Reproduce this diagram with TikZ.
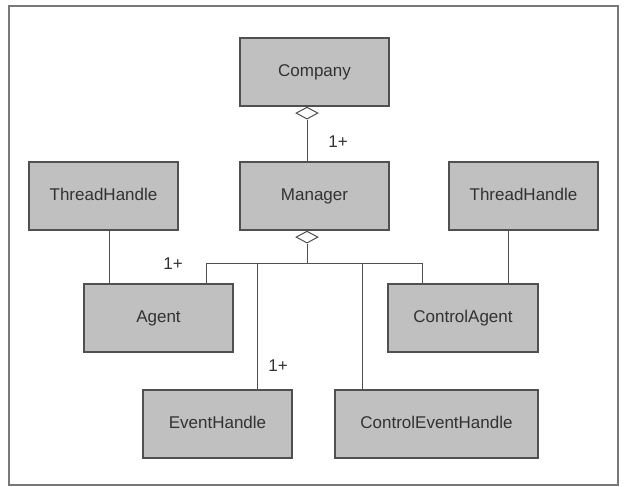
\documentclass[tikz,border=0pt]{standalone}
\usepackage{fontspec}
\setmainfont{Liberation Sans}
\usetikzlibrary{shapes.geometric}
\definecolor{boxfill}{RGB}{192,192,192}
\definecolor{boxline}{RGB}{80,80,80}
\definecolor{ink}{RGB}{50,50,50}
\definecolor{framec}{RGB}{120,120,120}
\begin{document}
\begin{tikzpicture}[x=1pt,y=-1pt,
  cls/.style={draw=boxline, line width=1.2pt, fill=boxfill, minimum height=68pt,
    inner sep=0pt, text height=12.4pt, text depth=3pt, text=ink,
    font=\fontsize{17}{17}\selectfont},
  agg/.style={diamond, draw=boxline, fill=white, line width=1pt,
    minimum width=22pt, minimum height=12pt, inner sep=0pt},
  conn/.style={draw=boxline, line width=1pt},
  mult/.style={text=ink, font=\fontsize{17}{17}\selectfont, inner sep=0pt}]
\useasboundingbox (0,0) rectangle (625,487);
\draw[framec, line width=1.6pt] (9,6) rectangle (618,485);

\node[cls, minimum width=149pt] (company) at (314.5,72) {Company};
\node[cls, minimum width=149pt] (manager) at (314.5,196) {Manager};
\node[cls, minimum width=149pt] (thL) at (103.5,196) {ThreadHandle};
\node[cls, minimum width=149pt] (thR) at (523.5,196) {ThreadHandle};
\node[cls, minimum width=149pt] (agent) at (158.5,318) {Agent};
\node[cls, minimum width=150pt] (cagent) at (463,318) {ControlAgent};
\node[cls, minimum width=149pt] (ehandle) at (217.5,424) {EventHandle};
\node[cls, minimum width=203pt] (cehandle) at (436.5,424) {ControlEventHandle};

\node[agg, anchor=north] (d1) at ([xshift=-7.5pt]company.south) {};
\node[agg, anchor=north] (d2) at ([xshift=-7.5pt]manager.south) {};

\draw[conn] (d1.south) -- (d1.south |- manager.north);

\coordinate (bar) at (307,263);
\coordinate (xa) at (206,263);
\coordinate (xb) at (257,263);
\coordinate (xc) at (362,263);
\coordinate (xd) at (422,263);
\draw[conn] (d2.south) -- (bar);
\draw[conn] (xa |- agent.north) -- (xa) -- (xd) -- (xd |- cagent.north);
\draw[conn] (xb) -- (xb |- ehandle.north);
\draw[conn] (xc) -- (xc |- cehandle.north);

\draw[conn] ([xshift=5.5pt]thL.south) -- ([xshift=5.5pt]thL.south |- agent.north);
\draw[conn] ([xshift=-15.5pt]thR.south) -- ([xshift=-15.5pt]thR.south |- cagent.north);

\node[mult] (m1) at (338,142) {1+};
\node[mult] (m2) at (173,264) {1+};
\node[mult] (m3) at (278,366) {1+};
\end{tikzpicture}
\end{document}
